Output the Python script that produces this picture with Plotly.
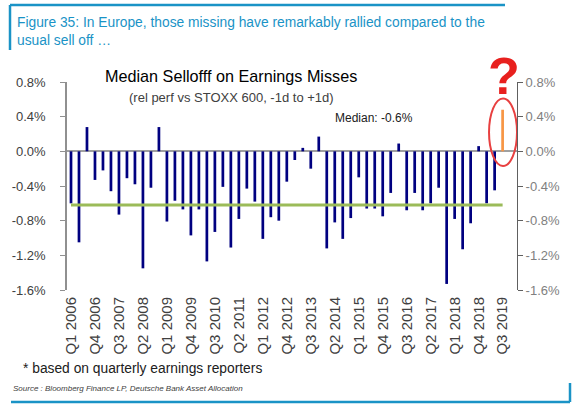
import plotly.graph_objects as go

# median sell-off per quarter, % rel perf vs STOXX 600 (-1d to +1d)
quarters = [f"Q{q} {y}" for y in range(2006, 2020) for q in range(1, 5)][:55]
selloff = [
    -0.60, -1.05, 0.28, -0.33, -0.22, -0.46, -0.73, -0.31, -0.38, -1.35,
    -0.42, 0.28, -0.81, -0.57, -0.67, -0.97, -0.67, -1.27, -0.93, -0.41,
    -1.11, -0.78, -0.43, -0.58, -1.01, -0.76, -0.80, -0.35, -0.10, 0.04,
    -0.20, 0.17, -1.12, -0.82, -1.01, -0.77, -0.30, -0.66, -0.66, -0.75,
    -0.48, 0.09, -0.68, -0.48, -0.68, -0.60, -0.42, -1.53, -0.78, -1.13,
    -0.83, 0.06, -0.60, -0.45, 0.48,
]
median_val = -0.62
tick_labels = [
    "Q1 2006", "Q4 2006", "Q3 2007", "Q2 2008", "Q1 2009", "Q4 2009",
    "Q3 2010", "Q2 2011", "Q1 2012", "Q4 2012", "Q3 2013", "Q2 2014",
    "Q1 2015", "Q4 2015", "Q3 2016", "Q2 2017", "Q1 2018", "Q4 2018",
    "Q3 2019",
]
y_ticks = [-1.6, -1.2, -0.8, -0.4, 0.0, 0.4, 0.8]
y_ticktext = ["-1.6%", "-1.2%", "-0.8%", "-0.4%", "0.0%", "0.4%", "0.8%"]

NAVY = "#000080"
ORANGE = "#f79646"
GREEN = "#9bbb59"
DB_BLUE = "#1a93c6"
bar_colors = [NAVY] * (len(selloff) - 1) + [ORANGE]

fig = go.Figure()

fig.add_trace(go.Bar(
    x=quarters,
    y=selloff,
    marker=dict(color=bar_colors, line=dict(width=0)),
    showlegend=False,
))

fig.add_trace(go.Scatter(
    x=[quarters[0], quarters[-1]],
    y=[median_val, median_val],
    mode="lines",
    line=dict(color=GREEN, width=3),
    yaxis="y2",
    showlegend=False,
))

fig.update_layout(
    width=588,
    height=410,
    margin=dict(l=67, r=71, t=82, b=120),
    paper_bgcolor="white",
    plot_bgcolor="white",
    bargap=0.66,
    font=dict(family="Arial, Liberation Sans, sans-serif", color="#404040"),
    xaxis=dict(
        type="category",
        range=[-0.5, 55.8],
        tickmode="array",
        tickvals=tick_labels,
        ticktext=tick_labels,
        tickangle=-90,
        tickfont=dict(size=15, color="#404040"),
        ticklabelstandoff=3,
        showline=False,
        showgrid=False,
        ticks="",
    ),
    yaxis=dict(
        range=[-1.6, 0.8],
        tickvals=y_ticks,
        ticktext=y_ticktext,
        tickfont=dict(size=13, color="#404040"),
        ticks="outside",
        ticklen=5,
        tickcolor="#909090",
        ticklabelstandoff=12,
        showline=True,
        linecolor="#909090",
        linewidth=1.5,
        showgrid=False,
        zeroline=True,
        zerolinecolor="#a0a0a0",
        zerolinewidth=1.5,
    ),
    yaxis2=dict(
        range=[-1.6, 0.8],
        overlaying="y",
        side="right",
        tickvals=y_ticks,
        ticktext=y_ticktext,
        tickfont=dict(size=13, color="#808080"),
        ticks="outside",
        ticklen=5,
        tickcolor="#606060",
        showline=True,
        linecolor="#606060",
        linewidth=1,
        showgrid=False,
        zeroline=False,
    ),
)

# red ellipse around the latest quarter
fig.add_shape(
    type="circle", xref="x", yref="y",
    x0=52.3, x1=55.8, y0=-0.17, y1=0.61,
    line=dict(color="#e84040", width=2),
)

pw, ph = 450, 208
def px_x(v):
    return (v - 67) / pw
def px_y(v):
    return (410 - v - 120) / ph

annotations = [
    dict(text="Figure 35: In Europe, those missing have remarkably rallied compared to the<br>usual sell off \u2026",
         x=15, y=13, xanchor="left", yanchor="top", align="left",
         font=dict(size=13.8, color=DB_BLUE)),
    dict(text="Median Sellofff on Earnings Misses",
         x=231, y=76, xanchor="center", yanchor="middle",
         font=dict(size=16.2, color="#000000")),
    dict(text="(rel perf vs STOXX 600, -1d to +1d)",
         x=231, y=97, xanchor="center", yanchor="middle",
         font=dict(size=13, color="#404040")),
    dict(text="Median: -0.6%",
         x=333, y=118, xanchor="left", yanchor="middle",
         font=dict(size=12, color="#202020")),
    dict(text="* based on quarterly earnings reporters",
         x=21, y=368, xanchor="left", yanchor="middle",
         font=dict(size=13.8, color="#202020")),
    dict(text="<i>Source : Bloomberg Finance LP, Deutsche Bank Asset Allocation</i>",
         x=11, y=388, xanchor="left", yanchor="middle",
         font=dict(size=8, color="#404040")),
    dict(text="<b>?</b>", x=504, y=76, xanchor="center", yanchor="middle",
         font=dict(size=52, color="#e8201e", family="Arial Black, Arial, sans-serif")),
]
for a in annotations:
    fig.add_annotation(
        xref="paper", yref="paper", showarrow=False,
        **{**a, "x": px_x(a["x"]), "y": px_y(a["y"])},
    )

# page rules
for x0, y0, x1, y1 in [(10, 5, 505, 5), (10, 5, 10, 50), (11, 402, 570, 402), (570, 383, 570, 402)]:
    fig.add_shape(
        type="line", xref="paper", yref="paper",
        x0=px_x(x0), y0=px_y(y0), x1=px_x(x1), y1=px_y(y1),
        line=dict(color=DB_BLUE, width=2.5),
    )

fig.write_html("out.html", config={"displayModeBar": False})

# drop the browser's default body margin so the figure sits at 0,0
with open("out.html", encoding="utf-8") as f:
    html = f.read()
html = html.replace("<head>", "<head><style>body{margin:0;}</style>", 1)
with open("out.html", "w", encoding="utf-8") as f:
    f.write(html)
